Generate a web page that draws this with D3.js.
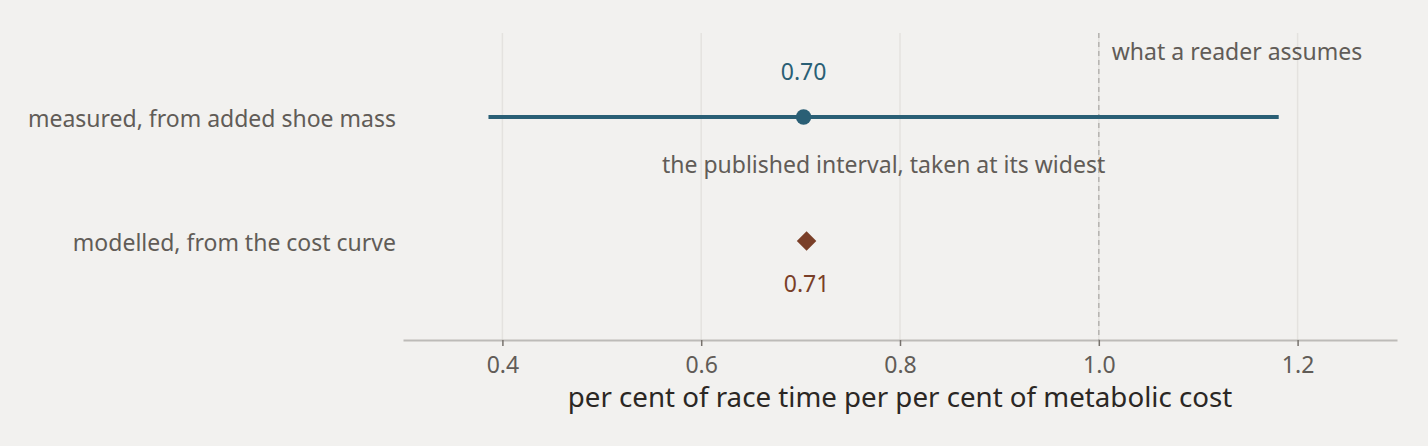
<!DOCTYPE html>
<html><head><meta charset="utf-8">
<script src="https://cdn.jsdelivr.net/npm/d3@7"></script>
<style>
html,body{margin:0;padding:0;background:#f2f1ef;}
svg{display:block;font-family:"Noto Sans","Open Sans",sans-serif;}
</style></head>
<body><svg id="c" width="1428" height="446"></svg>
<script>
const categories = ["measured, from added shoe mass", "modelled, from the cost curve"];
const estimates = [0.703, 0.706];
const estimateLabels = ["0.70", "0.71"];
const intervalLow = [0.386, null];
const intervalHigh = [1.181, null];
const tickValues = [0.4, 0.6, 0.8, 1.0, 1.2];
const referenceValue = 1.0;
const xDomain = [0.3, 1.3];

const svg = d3.select("#c");
const W = 1428, H = 446;
const margin = {left: 403, right: 31, top: 33, bottom: 106};
const x = d3.scaleLinear().domain(xDomain).range([margin.left, W - margin.right]);
const y = d3.scalePoint().domain(categories).range([117, 241]);
const axisY = H - margin.bottom;
const FONT = '"Noto Sans","Open Sans",sans-serif';
const FS = 23;

svg.append("rect").attr("width", W).attr("height", H).attr("fill", "#f2f1ef");

// gridlines
svg.append("g").selectAll("line").data(tickValues).join("line")
  .attr("x1", d => x(d)).attr("x2", d => x(d))
  .attr("y1", margin.top).attr("y2", axisY)
  .attr("stroke", "#e4e2df").attr("stroke-width", 1.5);

// reference dashed line
svg.append("line")
  .attr("x1", x(referenceValue)).attr("x2", x(referenceValue))
  .attr("y1", margin.top).attr("y2", axisY)
  .attr("stroke", "#b5b3b0").attr("stroke-width", 1.5).attr("stroke-dasharray", "5,4");

svg.append("text").attr("x", x(referenceValue) + 13).attr("y", 60)
  .attr("fill", "#615c57").attr("font-size", FS).text("what a reader assumes");

// axis
const axis = d3.axisBottom(x).tickValues(tickValues).tickFormat(d3.format(".1f")).tickSize(6).tickSizeOuter(0);
const gA = svg.append("g").attr("transform", `translate(0,${axisY})`).call(axis);
gA.select(".domain").attr("stroke", "#bdbbb8").attr("stroke-width", 2);
gA.selectAll(".tick line").attr("stroke", "#77726d").attr("stroke-width", 1.5);
gA.selectAll(".tick text").attr("fill", "#615c57").attr("font-size", FS).attr("y", 33).attr("dy", 0)
  .style("font-family", FONT);

svg.append("text").attr("x", x(0.8)).attr("y", 407).attr("text-anchor", "middle")
  .attr("fill", "#2b2724").attr("font-size", 27.7).text("per cent of race time per per cent of metabolic cost");

// category labels
svg.append("g").selectAll("text").data(categories).join("text")
  .attr("x", 396).attr("y", d => y(d) + 10)
  .attr("text-anchor", "end")
  .attr("fill", "#615c57").attr("font-size", FS).text(d => d);

// interval
const teal = "#2a5f75", brown = "#7a3f28";
svg.append("line")
  .attr("x1", x(intervalLow[0])).attr("x2", x(intervalHigh[0]))
  .attr("y1", y(categories[0])).attr("y2", y(categories[0]))
  .attr("stroke", teal).attr("stroke-width", 4);
svg.append("text").attr("x", x((intervalLow[0] + intervalHigh[0]) / 2)).attr("y", 173)
  .attr("text-anchor", "middle").attr("fill", "#615c57").attr("font-size", FS)
  .text("the published interval, taken at its widest");

// point estimate
svg.append("circle").attr("cx", x(estimates[0])).attr("cy", y(categories[0])).attr("r", 7.7).attr("fill", teal);
svg.append("text").attr("x", x(estimates[0])).attr("y", 80).attr("text-anchor", "middle")
  .attr("fill", teal).attr("font-size", FS).text(estimateLabels[0]);

// diamond
svg.append("path").attr("d", d3.symbol(d3.symbolDiamond2 || d3.symbolSquare, 242)())
  .attr("transform", `translate(${x(estimates[1])},${y(categories[1])}) rotate(${d3.symbolDiamond2 ? 0 : 45})`)
  .attr("fill", brown);
svg.append("text").attr("x", x(estimates[1])).attr("y", 292).attr("text-anchor", "middle")
  .attr("fill", brown).attr("font-size", FS).text(estimateLabels[1]);
</script></body></html>
